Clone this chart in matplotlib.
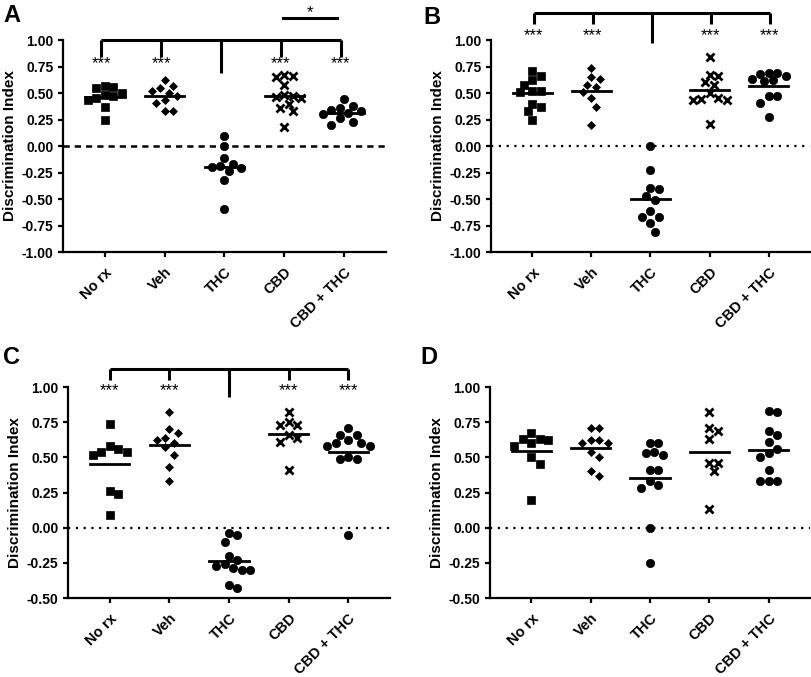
import matplotlib
matplotlib.use("Agg")
import matplotlib.pyplot as plt
import numpy as np

plt.rcParams["font.family"] = ["Liberation Sans", "DejaVu Sans"]

groups = ["No rx", "Veh", "THC", "CBD", "CBD + THC"]

# panel A
a_norx = [0.57, 0.55, 0.56, 0.50, 0.48, 0.47, 0.45, 0.43, 0.37, 0.25]
a_veh = [0.62, 0.57, 0.55, 0.52, 0.50, 0.47, 0.43, 0.41, 0.33, 0.33]
a_thc = [0.09, 0.0, -0.11, -0.17, -0.19, -0.20, -0.21, -0.24, -0.32, -0.59]
a_cbd = [0.66, 0.65, 0.67, 0.58, 0.48, 0.45, 0.46, 0.47, 0.36, 0.33, 0.40, 0.18]
a_combo = [0.44, 0.38, 0.36, 0.34, 0.33, 0.31, 0.30, 0.26, 0.23, 0.20]

# panel B
b_norx = [0.71, 0.66, 0.62, 0.58, 0.52, 0.51, 0.52, 0.40, 0.37, 0.33, 0.25]
b_veh = [0.74, 0.65, 0.63, 0.58, 0.56, 0.51, 0.45, 0.37, 0.20]
b_thc = [0.0, -0.23, -0.40, -0.41, -0.47, -0.51, -0.61, -0.67, -0.67, -0.73, -0.81]
b_cbd = [0.84, 0.67, 0.66, 0.60, 0.58, 0.50, 0.45, 0.43, 0.43, 0.44, 0.21]
b_combo = [0.69, 0.68, 0.63, 0.61, 0.62, 0.66, 0.69, 0.47, 0.47, 0.41, 0.27]

# panel C
c_norx = [0.74, 0.58, 0.54, 0.52, 0.54, 0.56, 0.26, 0.24, 0.09]
c_veh = [0.82, 0.67, 0.70, 0.62, 0.64, 0.60, 0.57, 0.52, 0.43, 0.33]
c_thc = [-0.04, -0.05, -0.10, -0.20, -0.23, -0.26, -0.30, -0.30, -0.29, -0.27, -0.43, -0.41]
c_cbd = [0.82, 0.75, 0.73, 0.73, 0.66, 0.64, 0.61, 0.41]
c_combo = [0.71, 0.66, 0.66, 0.62, 0.60, 0.58, 0.58, 0.60, 0.49, 0.49, 0.50, -0.05]

# panel D
d_norx = [0.63, 0.62, 0.67, 0.63, 0.60, 0.58, 0.50, 0.45, 0.20]
d_veh = [0.71, 0.71, 0.60, 0.62, 0.60, 0.62, 0.54, 0.50, 0.37, 0.40]
d_thc = [0.60, 0.60, 0.54, 0.52, 0.53, 0.41, 0.41, 0.33, 0.28, 0.30, 0.0, -0.25]
d_cbd = [0.82, 0.71, 0.69, 0.63, 0.46, 0.46, 0.40, 0.13]
d_combo = [0.83, 0.82, 0.69, 0.66, 0.61, 0.56, 0.50, 0.53, 0.41, 0.33, 0.33, 0.33]

markers = {"No rx": ("s", 6.0), "Veh": ("D", 4.5), "THC": ("o", 6.0),
           "CBD": ("x", 6.0), "CBD + THC": ("o", 6.0)}


def swarm_x(ax, vals, center, diam=8.5):
    """GraphPad-ish scatter: push points sideways until they stop overlapping."""
    (x0, y0), (x1, y1) = ax.transData.transform([(0, 0), (1, 1)])
    sx, sy = x1 - x0, y1 - y0
    step = diam * 0.5
    cands = [0.0] + [s * k * step for k in range(1, 12) for s in (1, -1)]
    vals = np.asarray(vals)
    xs = np.empty(len(vals))
    placed = []
    for i in np.argsort(-vals):
        yp = vals[i] * sy
        off = cands[-1]
        for c in cands:
            if all(np.hypot(c - px, yp - py) >= diam for px, py in placed):
                off = c
                break
        placed.append((off, yp))
        xs[i] = center + off / sx
    return xs


def draw_panel(ax, data, ylim, zero_ls):
    ax.set_xlim(-0.7, 4.7)
    ax.set_ylim(*ylim)
    for sp in ("top", "right"):
        ax.spines[sp].set_visible(False)
    for sp in ("left", "bottom"):
        ax.spines[sp].set_linewidth(1.6)
    ax.axhline(0, color="black", **zero_ls)
    for i, (g, vals) in enumerate(zip(groups, data)):
        mk, ms = markers[g]
        xs = swarm_x(ax, vals, i)
        ax.plot(xs, vals, ls="none", marker=mk, ms=ms, color="black",
                mew=2.0 if mk == "x" else 0.5, clip_on=False, zorder=3)
        m = np.mean(vals)
        ax.plot([i - 0.33, i + 0.33], [m, m], color="black", lw=2, zorder=4)
    yt = np.arange(ylim[0], ylim[1] + 0.01, 0.25)
    ax.set_yticks(yt)
    ax.set_yticklabels([f"{v:.2f}" for v in yt], fontsize=10, fontweight="bold")
    ax.set_xticks(range(len(groups)))
    ax.set_xticklabels(groups, rotation=45, ha="right", va="top",
                       rotation_mode="anchor", fontsize=10.5, fontweight="bold")
    ax.tick_params(axis="both", width=1.6, length=3.5, color="black")
    ax.tick_params(axis="x", pad=6)
    ax.set_ylabel("Discrimination Index", fontsize=11, fontweight="bold", labelpad=3)


def bracket(ax, shift, y_top, y_drop, y_mid, y_star):
    xs = np.arange(len(groups)) + shift
    kw = dict(color="black", lw=2.2, clip_on=False, solid_capstyle="butt")
    ax.plot([xs[0], xs[-1]], [y_top, y_top], **kw)
    for i, x in enumerate(xs):
        if i == 2:
            ax.plot([x, x], [y_top, y_mid], **kw)
        else:
            ax.plot([x, x], [y_top, y_drop], **kw)
            ax.text(x, y_star, "***", ha="center", va="center", fontsize=12)


W, H = 812, 677
fig = plt.figure(figsize=(W / 100, H / 100), dpi=100)


def axes_px(left, right, top, bottom):
    return fig.add_axes([left / W, 1 - bottom / H, (right - left) / W, (bottom - top) / H])


dashed = dict(ls=(0, (2.5, 2)), lw=1.8)
dotted = dict(ls=(0, (1, 2.5)), lw=1.6)

ax_a = axes_px(63, 386, 40, 252)
draw_panel(ax_a, [a_norx, a_veh, a_thc, a_cbd, a_combo], (-1.0, 1.0), dashed)
bracket(ax_a, -0.06, 1.0, 0.84, 0.69, 0.78)
ax_a.plot([3.0 - 0.02, 3.88], [1.205, 1.205], color="black", lw=2.2, clip_on=False)
ax_a.text(3.43, 1.26, "*", ha="center", va="center", fontsize=12)

ax_b = axes_px(491, 810, 40, 252)
draw_panel(ax_b, [b_norx, b_veh, b_thc, b_cbd, b_combo], (-1.0, 1.0), dotted)
bracket(ax_b, 0.02, 1.258, 1.15, 0.97, 1.045)

ax_c = axes_px(68, 390, 387, 598)
draw_panel(ax_c, [c_norx, c_veh, c_thc, c_cbd, c_combo], (-0.5, 1.0), dotted)
bracket(ax_c, 0.0, 1.13, 1.047, 0.93, 0.975)

ax_d = axes_px(490, 810, 387, 598)
draw_panel(ax_d, [d_norx, d_veh, d_thc, d_cbd, d_combo], (-0.5, 1.0), dotted)

for lab, x, y in [("A", 3, 4), ("B", 423, 6), ("C", 3, 346), ("D", 420, 346)]:
    fig.text(x / W, 1 - y / H, lab, fontsize=17, fontweight="bold", ha="left", va="top")

fig.savefig("out.png", dpi=100)
